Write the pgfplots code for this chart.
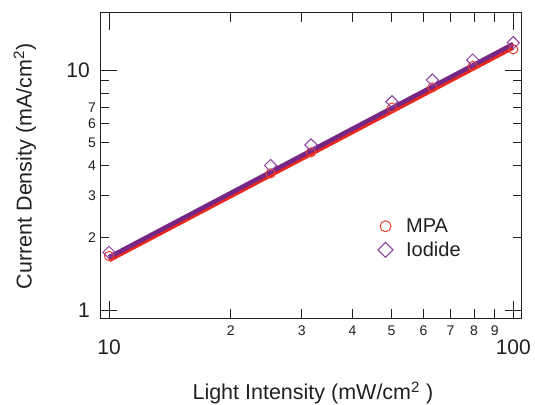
\documentclass[border=0pt]{standalone}
\usepackage{fontspec}
\setmainfont{Liberation Sans}
\usepackage{pgfplots}
\pgfplotsset{compat=1.18}
\definecolor{txt}{RGB}{35,31,32}
\definecolor{mpared}{RGB}{236,64,48}
\definecolor{mpaline}{RGB}{232,40,30}
\definecolor{iodmark}{RGB}{140,60,160}
\definecolor{iodline}{RGB}{118,38,132}
\begin{document}
\begin{tikzpicture}
\path[use as bounding box] (-100pt,-85.7pt) rectangle (435pt,318.3pt);
\begin{axis}[
  at={(0pt,0pt)}, anchor=south west,
  scale only axis, width=421.5pt, height=305.6pt,
  xmode=log, ymode=log,
  xmin=9.5, xmax=104.8, ymin=0.924, ymax=17.33,
  axis line style={txt, line width=1pt},
  every tick/.style={txt, line width=1pt},
  tick align=inside,
  minor tick length=0pt,
  major tick length=17pt,
  xtick={10,100}, xticklabels={10,100},
  ytick={1,10}, yticklabels={1,10},
  xticklabel style={font=\fontsize{21}{21}\selectfont, text=txt, inner sep=0pt, anchor=north, yshift=-21.2pt},
  yticklabel style={font=\fontsize{21}{21}\selectfont, text=txt, inner sep=0pt, anchor=east, xshift=-10pt},
  extra x ticks={20,30,40,50,60,70,80,90},
  extra x tick labels={2,3,4,5,6,7,8,9},
  extra x tick style={major tick length=9pt, xticklabel style={font=\fontsize{14}{14}\selectfont, yshift=14pt}},
  extra y ticks={2,3,4,5,6,7,8,9},
  extra y tick labels={2,3,4,5,6,7,{},{}},
  extra y tick style={major tick length=9pt, yticklabel style={font=\fontsize{14}{14}\selectfont, xshift=6pt}},
  xlabel={Light Intensity (mW/cm\textsuperscript{2} )},
  ylabel={Current Density (mA/cm\textsuperscript{2})},
  xlabel style={font=\fontsize{21.5}{21.5}\selectfont, text=txt, at={(axis description cs:0.505,-0.2673)}, anchor=base},
  ylabel style={font=\fontsize{21.5}{21.5}\selectfont, text=txt, at={(axis description cs:-0.162,0.497)}, anchor=base, rotate=0},
  legend style={draw=none, fill=none, font=\fontsize{20}{20}\selectfont, text=txt,
    at={(axis description cs:0.658,0.262)}, anchor=west, inner sep=0pt, row sep=4pt},
  legend cell align=left,
]
\addplot[mpaline, line width=4.5pt, forget plot] coordinates {(10,1.615) (100,12.43)};
\addplot[iodline, line width=4.5pt, forget plot] coordinates {(10,1.66) (100,12.83)};
\addplot[only marks, mark=o, mark size=4.6pt, mpared, mark options={line width=1pt},
  legend image code/.code={\path[draw=none] (0pt,0pt) -- (26.6pt,0pt); \path[draw=none] plot[mark=o, mark size=5.5pt, mark options={draw=mpared, line width=1pt}] coordinates {(8pt,0pt)};}] coordinates {
 (10,1.68) (25.1,3.71) (31.6,4.54) (50.1,6.97) (63.1,8.47) (79.4,10.4) (100,12.2)};
\addlegendentry{MPA}
\addplot[only marks, mark=square, mark size=4.3pt, iodmark, mark options={line width=1pt, rotate=45},
  legend image code/.code={\path[draw=none] (0pt,0pt) -- (26.6pt,0pt); \path[draw=none] plot[mark=square, mark size=5.3pt, mark options={draw=iodmark, line width=1pt, rotate=45}] coordinates {(8pt,0pt)};}] coordinates {
 (10,1.74) (25.1,4.0) (31.6,4.87) (50.1,7.38) (63.1,9.08) (79.4,11.0) (100,13.0)};
\addlegendentry{Iodide}
\end{axis}
\end{tikzpicture}
\end{document}
